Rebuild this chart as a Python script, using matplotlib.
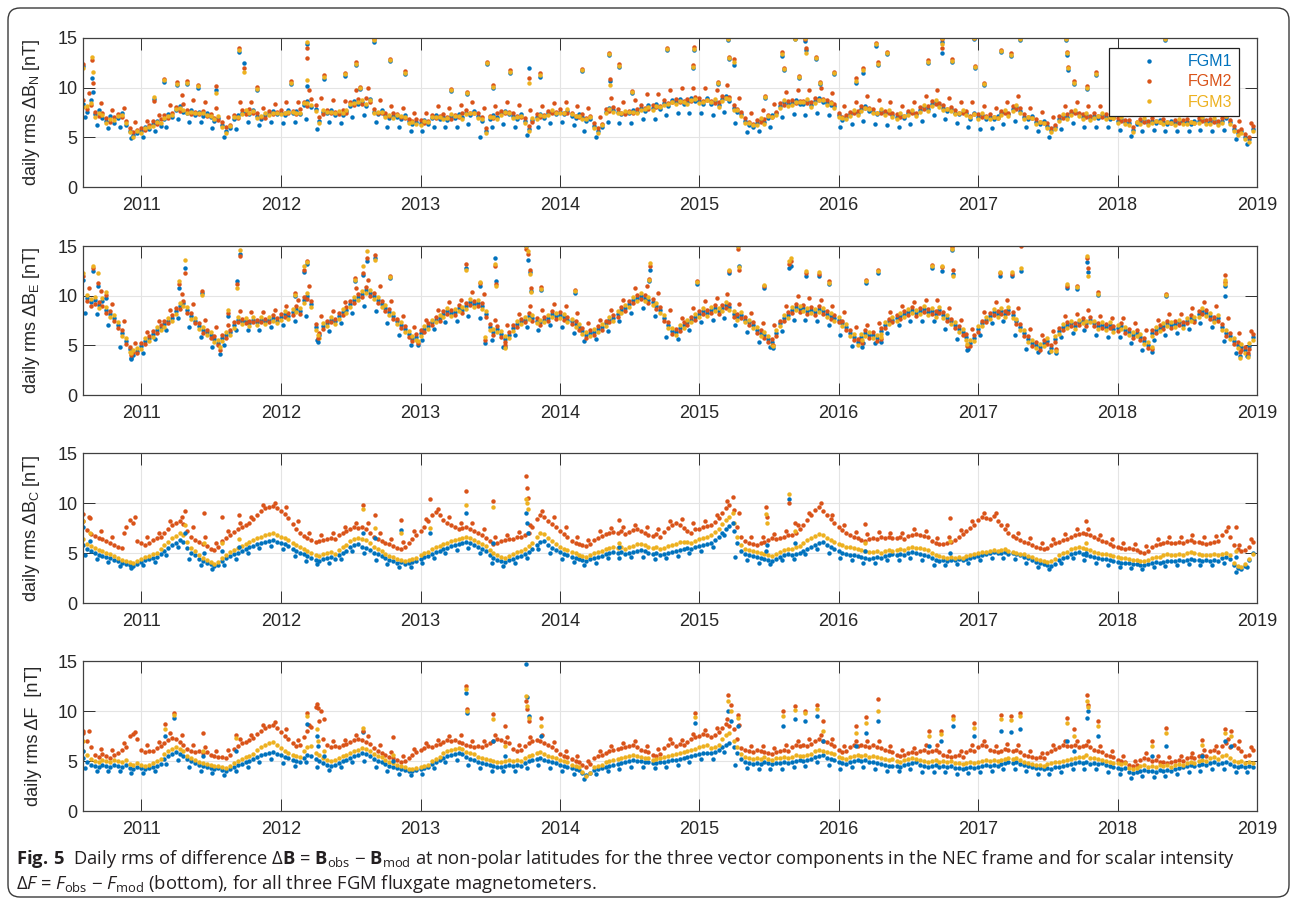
import numpy as np
import matplotlib
matplotlib.use("Agg")
import matplotlib.pyplot as plt
import matplotlib.dates as mdates
from matplotlib.patches import FancyBboxPatch
from matplotlib.transforms import IdentityTransform

plt.rcParams['font.family'] = ['Liberation Sans', 'DejaVu Sans']
plt.rcParams['mathtext.fontset'] = 'custom'
plt.rcParams['mathtext.rm'] = 'Liberation Sans'
plt.rcParams['mathtext.sf'] = 'Open Sans'
plt.rcParams['mathtext.bf'] = 'Open Sans:bold'
plt.rcParams['mathtext.it'] = 'Open Sans:italic'

# sampling: 1st, 11th, 21st of every month, Aug 2010 - Dec 2018
months = np.arange('2010-08', '2019-01', dtype='datetime64[M]')
dates = (months[:, None].astype('datetime64[D]') + np.array([0, 10, 20])).ravel()
# monthly band edges (lowest / highest daily values seen each month)
low_dates = months.astype('datetime64[D]') + 5
high_dates = months.astype('datetime64[D]') + 15

# ---------------- dB_N ----------------
n1 = [
 8.4,7.6,8.8, 7.3,7.8,6.9, 6.6,7.1,6.4, 6.9,7.5,6.2, 5.6,5.2,5.4,
 5.6,6.0,5.8, 6.3,6.6,6.1, 6.8,7.3,7.0, 7.8,8.2,7.6, 7.4,7.8,7.2, 7.6,7.1,7.4, 7.0,6.6,6.9, 6.2,5.6,5.9, 6.8,7.2,7.5, 7.6,7.3,7.8, 7.1,6.8,7.2, 7.4,7.7,7.3,
 7.5,7.2,7.8, 7.4,7.7,7.3, 8.3,8.7,8.1, 7.9,6.6,7.6, 7.4,7.8,7.2, 7.5,7.2,7.7, 8.2,8.7,8.4, 8.6,8.2,8.9, 7.6,7.3,7.8, 7.2,6.9,7.1, 7.0,6.8,7.2, 6.6,6.3,6.5,
 6.4,6.7,6.3, 6.9,7.2,6.8, 7.0,6.7,7.1, 6.9,7.3,7.0, 7.5,7.2,7.7, 7.1,6.6,5.6, 6.8,7.2,7.0, 7.4,7.7,7.3, 7.1,6.8,7.3, 6.6,5.8,6.7, 7.0,7.3,6.9, 7.4,7.6,7.3,
 7.6,7.3,7.7, 7.1,6.9,7.3, 7.0,6.6,6.8, 6.1,5.6,6.0, 7.6,8.0,7.8, 7.6,7.3,7.5, 7.4,7.8,7.6, 8.0,7.7,8.3, 8.0,8.4,7.9, 8.5,8.2,8.8, 8.6,8.9,8.4, 8.6,9.0,8.7,
 8.7,8.4,9.0, 8.4,8.7,8.3, 8.9,9.2,8.7, 8.0,7.6,7.3, 6.6,6.2,6.0, 6.4,6.7,6.5, 6.9,7.2,7.4, 8.2,8.6,8.4, 8.5,8.8,8.4, 8.4,8.7,8.3, 8.7,9.0,8.6, 8.5,8.3,8.2,
 7.2,6.7,7.0, 7.3,7.6,7.4, 7.9,8.2,7.7, 7.6,7.3,7.7, 7.4,7.6,7.2, 7.0,7.2,6.9, 7.4,7.6,7.3, 7.8,8.1,7.9, 8.4,8.6,8.3, 8.0,7.7,7.9, 7.5,7.3,7.6, 7.4,6.8,7.5,
 7.0,7.2,6.8, 7.0,6.8,7.1, 7.4,7.6,7.3, 7.9,8.1,7.7, 7.0,6.8,7.1, 6.5,6.3,6.6, 6.1,5.7,6.0, 6.8,7.1,7.0, 7.4,7.6,7.3, 7.0,7.2,6.9, 7.1,6.9,7.2, 7.0,6.8,7.1,
 6.6,6.8,6.5, 6.4,5.7,6.3, 6.5,6.7,6.4, 6.6,6.4,6.7, 6.5,6.3,6.6, 6.4,6.6,6.5, 6.5,6.3,6.6, 6.6,6.8,6.5, 6.5,6.7,6.4, 6.6,6.9,6.5, 5.8,5.4,5.6, 5.0,4.8,5.8,
]
n2 = [
 8.8,7.9,8.3, 7.6,7.1,7.4, 6.9,6.5,7.0, 7.3,7.0,6.6, 5.9,5.5,5.7,
 5.9,5.7,6.2, 6.6,6.3,6.8, 7.2,6.9,7.5, 8.1,7.7,8.4, 7.8,7.3,7.6, 7.3,7.7,7.1, 7.3,6.9,6.7, 6.5,6.0,6.2, 7.2,6.9,7.8, 7.3,7.9,7.5, 7.4,7.0,6.9, 7.7,7.3,7.6,
 7.8,7.4,7.5, 7.7,7.3,7.9, 8.6,8.2,8.9, 8.3,7.0,7.3, 7.8,7.4,7.6, 7.3,7.8,7.5, 8.6,8.3,8.9, 8.4,9.0,8.6, 7.9,7.5,7.4, 7.5,7.1,7.4, 7.3,7.0,6.9, 6.8,6.6,6.8,
 6.7,6.4,6.6, 7.2,6.9,7.1, 7.3,7.0,6.8, 7.2,7.0,7.4, 7.8,7.5,7.4, 7.4,7.0,5.9, 7.1,6.9,7.4, 7.7,7.4,7.6, 7.4,7.1,7.0, 6.9,6.1,6.5, 7.3,7.0,7.2, 7.7,7.4,7.6,
 7.9,7.5,7.4, 7.4,7.1,7.0, 7.3,6.9,7.1, 6.4,5.9,6.3, 7.9,7.7,8.1, 7.9,7.5,7.3, 7.7,7.5,7.9, 8.3,8.0,7.9, 8.3,8.1,8.2, 8.8,8.5,8.6, 8.9,8.6,8.7, 8.9,8.7,9.1,
 9.0,8.7,8.8, 8.7,8.5,8.6, 9.2,9.0,9.1, 8.3,7.9,7.6, 6.9,6.5,6.3, 6.7,6.5,6.8, 7.2,7.0,7.6, 8.5,8.3,8.7, 8.8,8.5,8.7, 8.7,8.5,8.6, 9.0,8.8,8.9, 8.8,8.6,8.4,
 7.5,7.0,7.2, 7.6,7.4,7.7, 8.2,8.0,8.0, 7.9,7.5,7.5, 7.7,7.4,7.4, 7.3,7.0,7.1, 7.7,7.4,7.5, 8.1,7.9,8.2, 8.7,8.4,8.5, 8.3,7.9,8.1, 7.8,7.5,7.4, 7.7,7.1,7.3,
 7.3,7.0,7.1, 7.3,7.0,6.9, 7.7,7.4,7.5, 8.2,7.9,8.0, 7.3,7.0,6.9, 6.8,6.5,6.4, 6.4,5.9,6.2, 7.1,6.9,7.3, 7.7,7.4,7.5, 7.3,7.0,7.1, 7.4,7.1,7.0, 7.3,7.0,6.9,
 6.9,6.6,6.7, 6.7,6.0,6.5, 6.8,6.5,6.6, 6.9,6.6,6.5, 6.8,6.5,6.4, 6.7,6.4,6.7, 6.8,6.5,6.4, 6.9,6.6,6.7, 6.8,6.5,6.6, 6.9,7.1,6.7, 6.1,5.6,5.8, 5.3,5.0,6.1,
]
n3 = [
 8.1,8.2,8.5, 7.0,7.5,7.2, 6.4,6.8,6.7, 7.1,7.2,6.4, 5.5,5.0,5.6,
 5.4,5.9,6.0, 6.1,6.5,6.4, 6.9,7.1,7.2, 7.9,8.0,7.8, 7.5,7.6,7.4, 7.5,7.4,7.2, 7.1,6.8,7.1, 6.0,5.4,6.1, 7.0,7.0,7.3, 7.8,7.5,7.7, 6.9,7.1,7.4, 7.2,7.5,7.5,
 7.3,7.5,7.6, 7.6,7.5,7.5, 8.5,8.5,8.3, 7.7,6.4,7.8, 7.6,7.6,7.4, 7.7,7.4,7.8, 8.4,8.5,8.6, 8.8,8.4,8.8, 7.4,7.6,7.6, 7.0,7.2,6.9, 7.2,7.1,7.0, 6.4,6.5,6.3,
 6.2,6.6,6.5, 7.0,7.0,7.0, 6.8,6.9,7.3, 7.1,7.1,6.8, 7.3,7.4,7.5, 6.9,6.8,5.4, 7.0,7.0,6.8, 7.2,7.6,7.5, 6.9,7.0,7.1, 6.4,5.6,6.9, 6.8,7.2,7.1, 7.2,7.8,7.5,
 7.4,7.5,7.9, 7.3,7.1,7.1, 6.8,6.8,7.0, 5.9,5.4,6.2, 7.4,7.9,7.6, 7.4,7.5,7.7, 7.6,7.6,7.4, 7.8,7.9,8.1, 7.8,8.2,8.1, 8.3,8.4,8.6, 8.4,8.7,8.6, 8.4,8.8,8.9,
 8.5,8.6,8.8, 8.6,8.9,8.1, 8.7,9.0,8.9, 7.8,7.8,7.1, 6.4,6.4,6.2, 6.2,6.9,6.3, 7.1,7.0,7.2, 8.0,8.8,8.2, 8.3,8.6,8.6, 8.6,8.9,8.1, 8.5,8.8,8.8, 8.3,8.5,8.0,
 7.0,6.9,6.8, 7.1,7.8,7.2, 7.7,8.0,7.9, 7.4,7.5,7.9, 7.2,7.8,7.0, 6.8,7.4,7.1, 7.2,7.8,7.1, 7.6,8.3,7.7, 8.2,8.8,8.1, 7.8,7.9,7.7, 7.3,7.5,7.8, 7.2,7.0,7.3,
 6.8,7.4,7.0, 6.8,7.0,6.9, 7.2,7.8,7.1, 7.7,8.3,7.5, 6.8,7.0,6.9, 6.3,6.5,6.4, 5.9,5.5,5.8, 6.6,7.3,6.8, 7.2,7.8,7.1, 6.8,7.4,6.7, 6.9,7.1,7.4, 6.8,7.0,6.9,
 6.4,7.0,6.3, 6.2,5.5,6.5, 6.3,6.9,6.2, 6.4,6.6,6.5, 6.3,6.5,6.4, 6.2,6.8,6.3, 6.3,6.5,6.4, 6.4,7.0,6.3, 6.3,6.9,6.2, 6.4,7.1,6.3, 5.6,5.2,5.4, 4.8,4.5,5.6,
]
n_low = [7.0,6.2,5.9,6.0,4.9,
 5.0,5.6,6.0,6.8,6.5,6.5,5.9,5.0,5.8,6.5,6.2,6.5,
 6.4,6.5,6.8,5.8,6.5,6.4,7.0,7.2,6.5,6.0,6.0,5.6,
 5.6,6.0,6.0,6.0,6.3,5.0,6.0,6.3,6.0,5.2,6.0,6.4,
 6.5,6.2,5.6,5.0,6.5,6.4,6.4,6.8,6.8,7.2,7.4,7.4,
 7.4,7.2,7.6,6.4,5.5,5.6,6.0,7.0,7.3,7.2,7.5,7.2,
 6.0,6.3,6.6,6.3,6.2,6.0,6.3,6.6,7.2,6.8,6.4,6.0,
 5.8,5.9,6.3,6.6,6.0,5.6,5.0,5.8,6.4,6.0,6.0,6.0,
 5.7,5.1,5.6,5.7,5.6,5.6,5.6,5.7,5.6,5.7,4.8,4.3]
n_high = [9.5,8.5,7.8,8.0,6.5,
 6.6,7.2,8.3,9.3,8.8,8.6,8.0,7.0,8.6,8.6,8.0,8.4,
 8.6,8.6,9.8,9.0,8.8,8.7,9.8,10.0,8.8,8.2,8.0,7.5,
 7.5,8.2,8.0,8.3,8.6,8.0,8.2,8.6,8.3,7.8,8.2,8.5,
 8.6,8.2,8.0,7.0,9.0,8.6,8.8,9.4,9.4,9.8,10.0,10.0,
 10.0,9.8,10.3,9.0,7.5,7.8,8.4,9.6,9.8,9.8,10.0,9.5,
 8.2,8.6,9.2,8.8,8.6,8.2,8.6,9.2,9.8,9.0,8.6,8.6,
 8.2,8.0,8.6,9.2,8.0,7.6,7.0,8.2,8.6,8.2,8.2,8.0,
 7.6,7.4,7.6,7.6,7.5,7.6,7.5,7.7,7.6,8.0,6.6,6.4]
storm_dates_n = [
 '2010-08-02','2010-08-25','2010-08-27',
 '2011-02-04','2011-03-02','2011-04-05','2011-05-01','2011-05-30','2011-07-16','2011-09-13','2011-09-28','2011-10-31',
 '2012-01-27','2012-03-09','2012-03-11','2012-04-22','2012-06-16','2012-07-16','2012-07-26','2012-09-01','2012-10-12','2012-11-22',
 '2013-03-21','2013-05-04','2013-06-25','2013-07-10','2013-08-23','2013-10-12','2013-11-10',
 '2014-02-28','2014-05-10','2014-05-12','2014-06-06','2014-07-10','2014-10-08','2014-12-15','2014-12-18',
 '2015-02-20','2015-03-17','2015-03-19','2015-04-01','2015-06-22','2015-08-07','2015-08-10','2015-09-09','2015-09-20',
 '2015-10-05','2015-10-08','2015-11-03','2015-11-13','2015-12-20',
 '2016-02-16','2016-03-06','2016-04-07','2016-04-12','2016-05-08','2016-08-23','2016-09-27','2016-09-29','2016-10-25',
 '2016-12-21','2016-12-24',
 '2017-01-15','2017-03-01','2017-03-27','2017-04-20','2017-08-18','2017-08-21','2017-08-24','2017-09-08','2017-10-14','2017-11-05',
 '2018-05-06','2018-10-10',
]
storm_n1 = [12.2,11.0,9.6, 8.9,10.6,10.3,10.4,10.0,9.8,13.6,12.5,9.8,
            10.4,14.4,10.2,10.9,11.2,12.3,9.9,14.6,12.7,11.4, 9.7,9.4,12.4,10.0,11.5,12.0,11.1,
            11.7,13.3,10.7,12.1,9.5,13.8,12.0,13.8,
            10.4,14.8,12.9,12.3,9.0,13.2,11.8,14.9,11.0,14.7,13.8,12.9,10.4,11.4,
            10.5,11.5,14.2,12.3,13.4,12.5,14.6,13.5,12.6,14.9,12.0,
            10.3,13.6,13.2,14.8,14.8,13.3,11.8,10.4,9.9,11.3, 14.8,8.6]
storm_n2 = [12.4,12.8,10.5, 8.7,10.9,10.6,10.7,10.3,10.2,14.0,12.0,10.1,
            10.7,14.0,13.0,11.3,11.5,12.6,10.1,14.9,12.9,11.7, 9.9,9.6,12.6,10.3,11.8,11.0,11.5,
            11.9,13.5,10.9,12.4,9.7,14.0,12.3,14.1,
            10.6,15.0,13.1,12.9,9.2,13.6,12.0,15.0,11.2,14.9,14.0,13.1,10.6,11.6,
            11.0,12.0,14.5,12.6,13.6,12.8,14.9,14.0,12.9,15.0,12.2,
            10.5,13.8,13.5,15.0,15.0,13.6,12.1,10.7,10.2,11.6, 15.0,8.9]
storm_n3 = [12.0,13.1,11.6, 9.1,10.8,10.4,10.5,10.2,9.5,13.8,11.6,9.9,
            10.5,14.6,10.8,11.1,11.4,12.4,10.0,14.8,12.8,11.5, 9.8,9.5,12.5,10.1,11.6,10.5,11.3,
            11.8,13.4,10.3,12.2,9.6,13.9,12.1,13.9,
            10.5,14.9,13.0,12.6,9.1,13.4,11.9,14.9,11.1,15.0,13.5,13.0,10.5,11.5,
            10.7,11.8,14.4,12.4,13.5,12.6,15.0,14.4,12.7,15.0,12.1,
            10.4,13.7,13.3,14.9,14.9,13.5,12.0,10.5,10.0,11.4, 14.9,8.7]

# ---------------- dB_E ----------------
e1 = [
 11.6,9.8,9.4, 9.6,9.1,9.5, 8.6,8.2,7.8, 7.0,6.2,5.4, 4.6,4.0,4.4,
 4.9,5.4,5.7, 6.1,6.5,6.8, 7.1,7.5,7.8, 8.5,9.0,9.3, 8.6,8.0,7.5, 6.9,6.5,6.3, 6.0,5.6,5.2, 5.7,6.0,6.3, 7.0,7.6,7.4, 7.5,7.2,7.6, 7.3,7.6,7.4, 7.6,7.8,7.5,
 7.9,8.2,8.0, 8.4,8.7,8.5, 9.6,10.0,9.2, 6.8,6.0,6.9, 7.2,7.6,7.4, 8.0,8.4,8.6, 9.2,9.6,9.9, 10.2,10.6,10.3, 10.0,9.6,9.2, 8.8,8.4,8.0, 7.4,7.0,6.6, 6.1,5.6,5.8,
 6.2,6.6,6.9, 7.3,7.6,7.8, 8.2,8.5,8.3, 8.4,8.8,8.6, 9.0,9.4,9.2, 9.3,9.0,8.2, 6.8,6.3,6.6, 6.1,5.6,6.0, 6.7,7.1,7.4, 7.6,8.0,7.8, 7.5,7.3,7.6, 7.8,8.2,8.0,
 8.1,7.9,7.6, 7.4,7.1,6.8, 6.4,6.0,6.2, 6.3,6.6,6.8, 7.2,7.6,7.8, 8.2,8.6,8.8, 9.2,9.6,9.8, 10.0,9.8,9.6, 9.4,9.0,8.6, 7.8,7.0,6.4, 6.3,6.7,7.0, 7.3,7.6,7.9,
 8.2,8.5,8.3, 8.6,8.8,8.5, 8.8,9.1,8.9, 8.2,7.9,8.1, 7.6,7.3,7.0, 6.5,6.2,6.0, 5.6,5.3,6.2, 7.2,7.8,8.1, 8.6,8.9,8.7, 8.8,8.5,8.6, 8.4,8.7,8.5, 8.2,8.0,7.8,
 7.6,7.2,6.8, 6.2,5.8,5.3, 5.8,6.2,6.0, 6.0,5.7,6.4, 7.0,7.4,7.6, 7.8,8.0,8.2, 8.4,8.6,8.3, 8.5,8.7,8.4, 8.5,8.2,8.6, 8.1,7.8,7.4, 7.0,6.6,6.3, 5.8,5.2,5.7,
 6.6,7.2,7.6, 8.0,8.4,8.2, 8.5,8.2,8.6, 8.1,7.4,6.8, 6.2,5.6,5.2, 5.0,4.8,5.2, 5.4,4.7,5.6, 6.4,6.8,7.0, 7.2,6.9,7.3, 7.5,7.2,7.6, 7.2,6.9,7.0, 6.8,7.0,6.6,
 6.7,6.9,6.5, 6.3,6.0,6.2, 5.8,5.4,5.0, 6.2,6.5,6.7, 6.9,7.2,7.0, 7.1,7.3,7.0, 7.5,7.8,7.6, 8.2,8.5,8.3, 8.0,7.6,7.8, 6.8,6.2,5.9, 5.4,5.0,4.8, 4.5,4.9,5.8,
]
e2 = [
 12.0,9.5,9.0, 9.2,9.4,9.0, 8.3,8.5,7.5, 6.7,6.5,5.1, 4.8,4.3,4.2,
 5.2,5.1,5.9, 6.4,6.2,7.0, 7.4,7.2,8.1, 8.8,8.7,9.5, 8.3,8.3,7.2, 7.2,6.2,6.5, 5.7,5.9,5.0, 6.0,5.7,6.5, 7.3,7.3,7.7, 7.2,7.5,7.3, 7.6,7.3,7.7, 7.3,8.1,7.8,
 8.2,7.9,8.3, 8.1,9.0,8.2, 9.9,9.7,9.5, 7.1,6.2,6.6, 7.5,7.3,7.7, 8.3,8.1,8.9, 9.5,9.3,10.2, 9.9,10.9,10.0, 10.3,9.3,9.5, 8.5,8.7,7.7, 7.7,6.7,6.9, 5.8,5.4,6.1,
 6.5,6.3,7.2, 7.0,7.9,7.5, 8.5,8.2,8.6, 8.1,9.1,8.3, 9.3,9.1,9.5, 9.0,9.3,7.9, 7.1,6.0,6.9, 5.8,5.3,6.3, 7.0,6.8,7.7, 7.3,8.3,7.5, 7.8,7.0,7.9, 7.5,8.5,7.7,
 8.4,7.6,7.9, 7.1,7.4,6.5, 6.7,5.7,6.5, 6.0,6.9,6.5, 7.5,7.3,8.1, 7.9,8.9,8.5, 9.5,9.3,10.1, 9.7,10.1,9.3, 9.7,8.7,8.9, 7.5,7.3,6.1, 6.6,6.4,7.3, 7.0,7.9,7.6,
 8.5,8.2,8.6, 8.3,9.1,8.2, 9.1,8.8,9.2, 7.9,8.2,7.8, 7.9,7.0,7.3, 6.2,6.5,5.7, 5.3,5.6,5.9, 7.5,7.5,8.4, 8.3,9.2,8.4, 9.1,8.2,8.9, 8.1,9.0,8.2, 8.5,7.7,8.1,
 7.3,7.5,6.5, 6.5,5.5,5.6, 5.5,6.5,5.7, 6.3,5.4,6.7, 6.7,7.7,7.3, 8.1,7.7,8.5, 8.1,8.9,8.0, 8.8,8.4,8.7, 8.2,8.5,8.3, 8.4,7.5,7.7, 6.7,6.9,6.0, 6.1,4.9,6.0,
 6.3,7.5,7.3, 8.3,8.1,8.5, 8.2,8.5,8.3, 8.4,7.1,7.1, 5.9,5.9,4.9, 5.3,4.5,5.5, 5.1,5.0,5.3, 6.7,6.5,7.3, 6.9,7.2,7.0, 7.8,6.9,7.9, 6.9,7.2,6.7, 7.1,6.7,6.9,
 6.4,7.2,6.2, 6.6,5.7,6.5, 5.5,5.7,4.7, 6.5,6.2,7.0, 6.6,7.5,6.7, 7.4,7.0,7.3, 7.2,8.1,7.3, 8.5,8.2,8.6, 7.7,7.9,7.5, 7.1,5.9,6.2, 5.1,5.3,4.5, 4.8,4.6,6.1,
]
e3 = [
 12.3,10.1,9.7, 9.9,8.8,9.8, 8.9,7.9,8.1, 7.3,5.9,5.7, 4.3,4.5,4.7,
 4.6,5.7,5.4, 5.8,6.8,6.5, 6.8,7.8,7.5, 8.2,9.3,9.0, 8.9,7.7,7.8, 6.6,6.8,6.0, 6.3,5.3,5.5, 5.4,6.3,6.0, 6.7,7.9,7.1, 7.8,6.9,7.9, 7.0,7.9,7.1, 7.9,7.5,7.2,
 7.6,8.5,7.7, 8.7,8.4,8.8, 9.3,10.3,8.9, 6.5,5.7,7.2, 6.9,7.9,7.1, 7.7,8.7,8.3, 8.9,9.9,9.6, 10.5,10.3,10.6, 9.7,9.9,8.9, 9.1,8.1,8.3, 7.1,7.3,6.3, 6.4,5.9,5.5,
 5.9,6.9,6.6, 7.6,7.3,8.1, 7.9,8.8,8.0, 8.7,8.5,8.9, 8.7,9.7,8.9, 9.6,8.7,8.5, 6.5,6.6,6.3, 6.4,5.9,5.7, 6.4,7.4,7.1, 7.9,7.7,8.1, 7.2,7.6,7.3, 8.1,7.9,8.3,
 7.8,8.2,7.3, 7.7,6.8,7.1, 6.1,6.3,5.9, 6.6,6.3,7.1, 6.9,7.9,7.5, 8.5,8.3,9.1, 8.9,9.9,9.5, 10.3,9.5,9.9, 9.1,9.3,8.3, 8.1,6.7,6.7, 6.0,7.0,6.7, 7.6,7.3,8.2,
 7.9,8.8,8.0, 8.9,8.5,8.8, 8.5,9.4,8.6, 8.5,7.6,8.4, 7.3,7.6,6.7, 6.8,5.9,6.3, 5.9,5.0,6.5, 6.9,8.1,7.8, 8.9,8.6,9.0, 8.5,8.8,8.3, 8.7,8.4,8.8, 7.9,8.3,7.5,
 7.9,6.9,7.1, 5.9,6.1,5.0, 6.1,5.9,6.3, 5.7,6.0,6.1, 7.3,7.1,7.9, 7.5,8.3,7.9, 8.7,8.3,8.6, 8.2,9.0,8.1, 8.8,7.9,8.9, 7.8,8.1,7.1, 7.3,6.3,6.6, 5.5,5.5,5.4,
 6.9,6.9,7.9, 7.7,8.7,7.9, 8.8,7.9,8.9, 7.8,7.7,6.5, 6.5,5.3,5.5, 4.7,5.1,4.9, 5.7,4.4,5.9, 6.1,7.1,6.7, 7.5,6.6,7.6, 7.2,7.5,7.3, 7.5,6.6,7.3, 6.5,7.3,6.3,
 7.0,6.6,6.8, 6.0,6.3,5.9, 6.1,5.1,5.3, 5.9,6.8,6.4, 7.2,6.9,7.3, 6.8,7.6,6.7, 7.8,7.5,7.9, 7.9,8.8,8.0, 8.3,7.3,8.1, 6.5,6.5,5.6, 5.7,4.7,5.1, 4.2,5.2,5.5,
]
e_low = [8.3,8.2,7.0,4.8,3.7,
 4.2,5.6,6.5,7.8,6.8,5.8,4.8,5.0,6.5,6.5,6.5,6.8,
 7.0,7.4,8.0,5.5,6.4,7.2,8.3,9.0,8.5,7.2,6.0,5.0,
 5.5,6.6,7.3,7.5,8.0,7.8,5.5,4.8,6.0,6.8,6.5,7.0,
 6.8,6.2,5.4,5.6,6.4,7.4,8.3,8.8,8.0,5.8,5.6,6.5,
 7.3,7.6,7.8,7.0,6.3,5.3,4.8,6.4,7.6,7.6,7.4,7.0,
 6.0,4.9,5.2,5.2,6.2,7.0,7.4,7.5,7.4,6.6,5.6,4.6,
 6.0,7.2,7.4,6.0,4.6,4.3,4.3,5.8,6.2,6.5,6.0,5.8,
 5.8,5.2,4.5,5.5,6.0,6.2,6.6,7.2,6.8,5.4,4.2,3.9]
e_high = [10.8,10.5,9.2,7.5,5.2,
 6.3,7.5,8.6,10.2,9.2,7.6,6.8,7.0,8.5,8.4,8.4,8.6,
 9.0,9.6,11.0,8.0,8.5,9.4,10.8,11.6,11.0,9.5,8.0,6.8,
 7.6,8.6,9.4,9.6,10.4,10.2,7.6,7.0,8.2,9.0,8.6,9.2,
 9.0,8.3,7.2,7.6,8.6,9.6,10.8,11.0,10.3,8.6,7.8,8.8,
 9.5,9.8,10.2,9.2,8.3,7.2,7.0,9.0,10.0,9.8,9.6,9.0,
 8.4,6.8,7.0,7.2,8.4,9.0,9.4,9.6,9.6,8.8,7.6,6.6,
 8.4,9.4,9.6,8.8,6.6,6.0,6.4,8.0,8.2,8.6,8.0,7.8,
 7.8,7.2,6.5,7.6,8.2,8.2,8.8,9.4,9.0,7.8,6.2,6.4]
storm_dates_e = [
 '2010-08-28','2010-09-08','2010-10-01','2010-12-05',
 '2011-04-09','2011-04-26','2011-06-10','2011-07-25','2011-08-15','2011-09-09','2011-09-15',
 '2012-02-07','2012-03-03','2012-03-09','2012-04-08','2012-07-13','2012-08-04','2012-08-14','2012-09-05','2012-10-12','2012-12-25',
 '2013-05-01','2013-06-06','2013-06-18','2013-07-16','2013-07-19','2013-08-11','2013-10-05','2013-10-09','2013-10-14','2013-10-18','2013-11-13',
 '2014-02-10','2014-08-22','2014-08-26','2014-12-27',
 '2015-03-21','2015-04-12','2015-04-14','2015-06-21','2015-07-12','2015-08-25','2015-08-29','2015-10-08','2015-11-11','2015-12-07',
 '2016-03-03','2016-03-14','2016-04-12','2016-04-21','2016-09-02','2016-09-28','2016-10-25','2016-10-27','2016-12-02',
 '2017-02-28','2017-03-29','2017-04-22','2017-07-24','2017-08-21','2017-09-17','2017-10-14','2017-10-16','2017-11-10',
 '2018-04-01','2018-05-07','2018-10-08','2018-10-10','2018-11-18','2018-12-08',
]
storm_e1 = [12.5,11.0,9.8,3.6, 10.8,12.8,10.3,4.1,8.0,11.5,14.2,
            10.0,12.4,13.2,5.3,11.5,12.1,13.5,13.8,11.8,5.0,
            12.8,11.0,5.2,13.8,11.5,4.8,15.0,13.6,12.4,10.5,10.6,
            10.3,11.5,12.6,11.2, 12.3,15.0,13.0,10.8,4.7,12.8,13.0,12.0,12.0,11.2,
            4.8,11.3,12.3,5.3,12.8,12.5,14.6,12.2,4.5,
            12.0,12.0,12.5,4.2,10.8,10.7,13.4,12.4,10.1, 4.3,10.0,10.0,11.0,3.9,4.0]
storm_e2 = [12.8,11.3,10.1,4.0, 11.2,12.3,10.5,4.5,8.3,11.2,14.0,
            10.3,12.6,13.5,5.7,11.8,12.3,13.8,14.1,12.0,5.2,
            13.2,11.3,5.5,13.0,11.2,5.0,14.7,14.2,12.6,10.8,10.9,
            10.6,11.7,13.0,11.5, 12.5,14.7,12.6,11.0,5.0,13.2,13.5,12.3,12.2,11.5,
            5.2,11.6,12.6,5.6,13.1,12.9,14.9,12.6,4.9,
            12.3,12.2,15.0,4.6,11.0,11.0,13.8,12.8,10.4, 4.6,10.2,12.1,11.4,4.3,4.2]
storm_e3 = [13.0,12.3,10.4,4.2, 11.5,13.6,10.1,4.8,8.6,10.8,14.6,
            10.1,13.0,13.4,6.0,11.6,13.0,14.5,13.6,11.9,5.4,
            12.6,11.4,5.8,13.2,11.0,4.7,15.0,14.5,12.2,10.4,10.7,
            10.5,11.6,13.3,11.4, 12.6,15.0,12.9,11.1,4.9,13.5,13.8,12.5,12.4,11.3,
            5.5,11.5,12.5,5.8,13.0,13.0,14.7,12.0,5.1,
            12.4,12.4,12.8,4.4,11.2,10.9,14.0,12.0,10.2, 4.8,10.1,11.2,11.6,3.7,3.8]

# ---------------- dB_C ----------------
c1 = [
 5.8,5.4,5.2, 5.0,4.8,4.7, 4.6,4.5,4.3, 4.2,4.0,3.9, 3.8,3.7,3.9,
 4.1,4.3,4.4, 4.5,4.6,4.9, 5.2,5.5,5.8, 6.0,6.3,6.1, 5.5,5.0,4.8, 4.4,4.2,4.0, 3.9,3.7,3.8, 4.2,4.5,4.7, 4.9,5.0,5.2, 5.4,5.6,5.7, 5.9,6.0,6.1, 6.2,6.3,6.1,
 6.0,5.9,5.7, 5.4,5.2,5.0, 4.9,4.7,4.5, 4.3,4.2,4.4, 4.5,4.6,4.4, 4.8,5.0,5.2, 5.6,5.8,5.9, 5.6,5.5,5.3, 5.0,4.9,4.7, 4.5,4.3,4.2, 4.0,4.1,3.9, 4.0,4.1,4.2,
 4.4,4.6,4.7, 4.9,5.1,5.2, 5.4,5.5,5.7, 5.8,5.9,6.0, 6.1,6.0,5.8, 5.6,5.4,5.2, 4.8,4.5,4.3, 4.2,4.1,4.3, 4.4,4.6,4.7, 4.9,5.1,5.4, 5.8,6.1,6.2, 5.8,5.5,5.3,
 5.1,4.9,4.8, 4.6,4.5,4.4, 4.3,4.2,4.4, 4.5,4.6,4.7, 4.9,5.0,5.1, 5.0,5.1,4.9, 5.0,5.1,5.2, 5.3,5.2,5.0, 4.9,5.0,4.8, 4.9,5.0,5.1, 5.2,5.3,5.4, 5.5,5.4,5.6,
 5.7,5.8,5.9, 6.0,6.3,6.6, 7.0,7.4,7.7, 7.2,6.0,5.2, 4.9,4.8,4.7, 4.6,4.5,4.4, 4.3,4.2,4.4, 4.6,4.8,4.9, 4.8,4.9,5.0, 5.2,5.4,5.6, 5.8,6.0,6.1, 5.8,5.6,5.4,
 5.2,5.0,4.9, 4.8,4.8,4.7, 4.6,4.5,4.4, 4.5,4.6,4.5, 4.7,4.8,4.9, 4.8,4.9,4.8, 5.0,5.1,5.0, 4.9,4.8,4.7, 4.5,4.3,4.2, 4.3,4.2,4.3, 4.3,4.4,4.3, 4.4,4.5,4.6,
 4.7,4.8,4.9, 5.0,5.1,5.0, 5.0,5.1,4.9, 5.0,4.9,4.8, 4.6,4.5,4.3, 4.1,4.0,3.9, 3.8,3.7,3.9, 4.3,4.5,4.6, 4.9,5.0,5.1, 4.9,4.8,4.7, 4.6,4.5,4.4, 4.4,4.3,4.2,
 4.1,4.0,4.0, 4.0,3.9,3.9, 3.8,3.8,3.9, 4.0,4.1,4.0, 4.1,4.2,4.2, 4.2,4.3,4.2, 4.3,4.4,4.3, 4.3,4.2,4.3, 4.2,4.3,4.2, 4.5,4.6,4.4, 3.8,3.5,3.4, 3.7,4.3,5.0,
]
c2 = [
 8.2,7.3,6.9, 6.7,6.5,6.4, 6.2,6.0,5.8, 5.6,5.5,7.6, 8.3,8.0,6.2,
 6.0,5.8,6.0, 6.3,6.5,6.6, 7.0,7.4,7.8, 8.0,8.2,7.9, 7.2,6.6,6.3, 6.1,5.9,5.7, 5.4,5.3,5.6, 6.2,6.5,6.8, 7.1,7.4,7.6, 7.8,8.0,8.4, 8.8,9.2,9.5, 9.6,9.7,9.5,
 9.2,8.9,8.5, 7.9,7.4,7.0, 6.7,6.5,6.3, 6.1,6.2,6.3, 6.4,6.5,6.4, 6.8,7.0,7.2, 7.4,7.6,7.5, 7.6,7.4,7.0, 6.6,6.4,6.2, 6.0,5.9,5.7, 5.5,5.4,5.6, 6.0,6.4,6.8,
 7.2,7.6,8.2, 8.8,9.1,8.8, 8.3,8.0,7.8, 7.6,7.4,7.5, 7.6,7.4,7.2, 7.0,6.8,6.5, 6.2,5.9,6.0, 6.2,6.3,6.4, 6.4,6.6,6.6, 6.8,7.0,7.6, 8.4,8.8,8.6, 8.2,7.9,7.6,
 7.2,6.9,6.6, 6.2,6.0,5.9, 5.8,5.7,5.9, 6.3,6.5,6.7, 6.9,7.0,7.1, 7.0,7.2,6.9, 7.1,7.3,7.4, 7.2,7.0,6.8, 6.7,6.9,6.6, 7.1,7.5,7.8, 8.0,7.8,7.5, 7.2,7.0,7.4,
 7.4,7.6,7.7, 7.8,8.1,8.5, 9.0,9.5,9.8, 9.3,7.6,6.6, 6.2,6.0,5.9, 5.8,6.0,6.1, 6.3,6.5,6.4, 6.5,6.6,6.8, 6.8,7.0,7.4, 7.8,8.3,8.8, 9.3,9.6,9.2, 8.8,8.4,8.0,
 7.6,7.3,7.0, 6.8,6.6,6.5, 6.3,6.2,6.4, 6.5,6.4,6.6, 6.5,6.6,6.5, 6.5,6.6,6.4, 6.7,6.8,6.9, 6.8,6.7,6.6, 6.2,6.0,5.9, 5.9,6.0,6.1, 6.3,6.6,6.9, 7.2,7.5,7.8,
 8.3,8.6,8.5, 8.4,8.7,8.2, 7.8,7.4,7.0, 6.7,6.5,6.3, 6.1,6.0,5.8, 5.6,5.5,5.4, 5.5,5.8,6.0, 6.1,6.3,6.4, 6.6,6.8,6.9, 7.0,6.9,6.8, 6.6,6.4,6.2, 6.1,5.9,5.7,
 5.6,5.5,5.4, 5.5,5.4,5.3, 5.1,5.0,5.2, 5.6,5.8,5.9, 6.0,6.1,6.0, 6.0,6.1,6.0, 6.2,6.3,6.1, 6.1,6.0,5.9, 6.0,6.1,6.2, 6.8,7.2,6.6, 5.8,5.4,5.2, 5.3,5.6,6.1,
]
c3 = [
 6.4,5.9,5.7, 5.5,5.3,5.2, 5.0,4.9,4.7, 4.5,4.3,4.2, 4.1,4.0,4.2,
 4.4,4.6,4.7, 4.9,5.0,5.4, 5.8,6.1,6.5, 6.7,7.0,6.8, 6.1,5.5,5.2, 4.8,4.5,4.3, 4.1,3.9,4.1, 4.5,4.8,5.1, 5.3,5.5,5.7, 5.9,6.1,6.3, 6.5,6.6,6.8, 6.9,7.0,6.8,
 6.6,6.5,6.3, 6.0,5.8,5.6, 5.4,5.2,5.0, 4.8,4.7,4.9, 5.0,5.1,4.9, 5.3,5.6,5.8, 6.2,6.4,6.5, 6.4,6.3,6.0, 5.6,5.4,5.2, 4.9,4.7,4.6, 4.4,4.3,4.2, 4.3,4.4,4.5,
 4.8,5.0,5.1, 5.4,5.6,5.7, 5.9,6.0,6.2, 6.3,6.4,6.5, 6.6,6.5,6.3, 6.1,5.9,5.7, 5.3,5.0,4.8, 4.6,4.5,4.7, 4.9,5.1,5.2, 5.4,5.7,6.0, 6.6,7.0,6.9, 6.5,6.2,5.9,
 5.6,5.4,5.3, 5.1,5.0,4.8, 4.7,4.6,4.8, 5.0,5.1,5.2, 5.4,5.5,5.6, 5.5,5.6,5.4, 5.6,5.7,5.9, 5.9,5.8,5.6, 5.5,5.6,5.4, 5.5,5.7,5.8, 5.9,6.1,6.1, 6.1,6.0,6.2,
 6.4,6.5,6.6, 6.8,7.1,7.4, 7.9,8.3,8.6, 8.0,6.6,5.8, 5.4,5.3,5.2, 5.1,5.0,4.9, 4.8,4.7,4.9, 5.1,5.3,5.4, 5.4,5.6,5.7, 6.0,6.3,6.5, 6.7,6.9,6.8, 6.5,6.3,6.1,
 5.9,5.8,5.6, 5.6,5.5,5.4, 5.3,5.2,5.1, 5.1,5.2,5.0, 5.2,5.3,5.2, 5.3,5.4,5.3, 5.5,5.6,5.5, 5.5,5.4,5.3, 5.0,4.8,4.7, 4.6,4.5,4.6, 4.5,4.6,4.5, 4.7,4.8,4.9,
 5.0,5.1,5.1, 5.2,5.3,5.2, 5.3,5.4,5.2, 5.1,5.0,4.9, 4.9,4.7,4.6, 4.4,4.3,4.2, 4.1,4.2,4.4, 4.8,5.0,5.1, 5.4,5.5,5.6, 5.5,5.4,5.3, 5.1,5.0,4.9, 4.9,4.8,4.7,
 4.6,4.5,4.5, 4.4,4.3,4.3, 4.2,4.2,4.3, 4.5,4.6,4.6, 4.8,4.9,4.8, 4.8,4.9,4.8, 5.0,5.1,5.0, 4.9,4.8,4.8, 4.8,4.9,4.8, 4.9,5.0,4.8, 4.0,3.7,3.6, 3.9,4.4,4.9,
]
c_low = [4.8,4.4,4.1,3.7,3.5,
 3.8,4.1,4.8,5.6,4.4,3.8,3.4,3.8,4.4,5.0,5.5,5.7,
 5.4,4.7,4.2,3.9,4.0,4.4,5.2,5.0,4.3,3.9,3.6,3.6,
 4.0,4.5,5.0,5.3,5.5,5.0,4.0,3.7,4.0,4.5,5.4,5.0,
 4.4,4.1,3.8,4.0,4.5,4.5,4.6,4.6,4.4,4.5,4.7,5.0,
 5.2,5.6,6.8,4.6,4.3,4.0,3.9,4.3,4.4,4.9,5.4,5.0,
 4.5,4.3,4.0,4.0,4.3,4.3,4.5,4.3,3.8,3.8,3.9,4.0,
 4.3,4.5,4.5,4.4,4.0,3.6,3.4,4.0,4.5,4.3,4.0,3.8,
 3.6,3.5,3.4,3.6,3.7,3.8,3.9,3.8,3.8,4.0,3.1,3.6]
c_high = [8.6,7.2,6.6,7.0,8.6,
 6.6,7.0,8.2,8.6,7.6,6.6,6.0,7.2,8.0,8.6,9.8,10.0,
 9.6,8.2,7.0,6.8,7.0,7.6,8.0,8.0,7.0,6.4,6.1,7.2,
 8.4,9.4,8.6,8.0,8.0,7.4,6.6,6.8,7.1,7.8,9.2,8.6,
 7.6,6.6,6.3,7.2,7.5,7.6,7.8,7.6,7.4,8.2,8.4,8.0,
 8.2,8.8,10.2,9.0,6.6,6.6,6.9,7.2,7.8,9.0,10.0,8.8,
 7.8,7.1,6.9,7.1,7.0,7.0,7.4,7.2,6.5,6.6,7.3,8.2,
 9.0,9.0,7.8,7.0,6.5,6.0,6.4,6.9,7.4,7.4,6.8,6.4,
 6.0,5.9,5.7,6.4,6.6,6.6,6.8,6.6,6.7,7.6,5.8,6.4]
storm_dates_c = [
 '2010-08-01','2010-08-20',
 '2011-04-25','2011-06-15','2011-08-01','2011-09-13',
 '2012-08-04','2012-09-05','2012-11-10',
 '2013-01-25','2013-05-01','2013-07-09','2013-10-05','2013-10-08','2013-10-10',
 '2014-06-06',
 '2015-03-30','2015-06-24','2015-06-27','2015-08-25','2015-09-10',
 '2016-03-10','2016-10-20', '2017-10-10', '2018-11-06',
]
storm_c1 = [7.6,6.2, 7.0,5.0,5.2,5.6, 7.0,6.5,7.3, 7.0,9.0,6.0,9.0,8.0,7.0, 5.6,
            8.0,5.2,5.8,10.4,6.0, 5.2,5.0, 5.0, 4.6]
storm_c2 = [8.9,8.5, 9.2,9.0,8.6,8.8, 9.8,8.8,8.3, 10.4,11.2,10.2,12.7,11.5,10.5, 8.3,
            10.6,9.6,8.6,10.0,8.0, 7.9,8.5, 8.2, 7.6]
storm_c3 = [8.2,7.0, 7.8,6.0,6.0,6.4, 9.4,7.5,7.0, 7.5,9.8,9.6,10.4,10.0,9.4, 6.0,
            9.0,8.9,8.0,10.9,7.2, 6.0,6.2, 6.0, 5.2]

# ---------------- dF ----------------
f1 = [
 5.3,4.9,4.6, 4.5,4.4,4.6, 4.5,4.4,4.6, 4.5,4.4,4.6, 4.3,4.2,4.4,
 4.3,4.2,4.3, 4.4,4.5,4.7, 5.2,5.5,5.7, 5.9,5.7,5.5, 5.2,5.0,4.8, 4.6,4.5,4.4, 4.3,4.2,4.3, 4.1,4.0,4.2, 4.4,4.6,4.7, 4.9,5.0,5.2, 5.4,5.6,5.7, 5.8,5.9,5.7,
 5.6,5.4,5.3, 5.1,5.0,4.9, 5.3,5.6,5.5, 5.2,5.0,4.8, 4.6,4.5,4.6, 4.8,5.0,5.1, 5.3,5.5,5.6, 5.8,5.7,5.5, 5.2,5.0,4.9, 4.7,4.5,4.4, 4.3,4.2,4.1, 4.0,4.0,4.1,
 4.2,4.3,4.4, 4.7,4.9,5.1, 5.3,5.5,5.6, 5.7,5.8,5.7, 5.4,5.2,5.1, 4.9,4.8,4.7, 4.6,4.5,4.4, 4.4,4.5,4.6, 4.5,4.6,4.5, 4.8,5.0,5.1, 5.2,5.3,5.1, 5.0,4.9,4.8,
 4.6,4.5,4.4, 4.3,4.2,4.1, 3.8,3.6,3.8, 4.1,4.2,4.3, 4.4,4.5,4.6, 4.7,4.8,4.9, 5.0,5.1,5.0, 5.0,4.9,4.9, 4.8,4.8,4.9, 4.9,5.0,5.1, 5.1,5.2,5.3, 5.4,5.5,5.6,
 5.7,5.8,5.8, 5.8,5.9,6.1, 6.4,6.6,6.8, 6.4,5.8,5.2, 4.9,4.8,4.7, 4.8,4.7,4.9, 4.8,4.7,4.8, 4.8,4.9,4.8, 4.9,5.0,5.1, 5.0,5.1,5.2, 5.4,5.5,5.6, 5.3,5.2,5.1,
 4.9,4.8,4.7, 4.9,5.0,5.1, 5.0,5.1,4.9, 4.9,4.8,4.7, 4.6,4.5,4.5, 4.5,4.4,4.6, 4.7,4.8,4.9, 4.6,4.5,4.4, 4.5,4.6,4.4, 4.5,4.4,4.5, 4.3,4.3,4.2, 4.3,4.4,4.3,
 4.4,4.5,4.6, 4.5,4.6,4.5, 4.7,4.8,4.9, 4.8,4.9,4.7, 4.6,4.5,4.4, 4.3,4.3,4.2, 4.3,4.2,4.4, 4.4,4.5,4.6, 4.7,4.8,4.9, 4.8,4.9,4.7, 4.8,4.7,4.8, 4.6,4.5,4.4,
 4.3,4.2,4.3, 3.9,3.8,3.9, 4.0,4.1,4.0, 4.0,3.9,4.1, 4.0,4.1,4.0, 4.2,4.3,4.4, 4.5,4.6,4.5, 4.6,4.7,4.6, 4.8,4.9,4.7, 4.8,4.9,4.7, 4.5,4.4,4.5, 4.4,4.5,4.4,
]
f2 = [
 7.8,7.0,6.4, 5.6,5.4,5.7, 5.5,5.3,5.6, 5.8,6.1,6.4, 7.5,7.7,7.2,
 6.1,5.9,6.0, 6.0,6.3,6.5, 6.8,7.1,7.3, 7.2,6.9,6.6, 6.2,6.0,5.9, 6.0,5.8,5.9, 5.6,5.5,5.4, 5.4,5.3,5.6, 6.2,6.5,6.8, 6.9,7.1,7.3, 7.7,8.0,8.3, 8.5,8.6,8.3,
 7.9,7.5,7.2, 6.8,6.5,6.6, 7.4,8.0,8.4, 10.4,9.0,7.2, 6.6,6.4,6.5, 6.4,6.6,6.7, 6.9,7.1,7.2, 7.1,6.9,6.7, 6.3,6.0,5.8, 5.6,5.4,5.3, 5.1,4.9,5.0, 5.3,5.6,5.9,
 6.1,6.3,6.5, 6.4,6.6,6.7, 6.9,7.1,7.0, 7.1,6.9,6.8, 6.6,6.5,6.4, 6.5,6.4,6.6, 6.8,7.0,7.2, 7.1,6.9,6.8, 6.2,6.0,6.1, 6.5,6.8,7.0, 7.1,7.0,6.8, 6.6,6.4,6.1,
 5.7,5.5,5.4, 5.2,5.0,4.9, 4.6,4.4,4.7, 5.3,5.5,5.6, 5.8,6.0,6.1, 6.2,6.3,6.4, 6.5,6.6,6.4, 6.1,6.0,5.9, 5.6,5.5,5.7, 6.3,6.6,6.8, 6.5,6.7,6.6, 6.9,7.2,7.4,
 7.5,7.7,7.6, 7.4,7.6,7.9, 8.3,8.7,8.5, 8.2,7.2,6.3, 6.1,6.0,5.9, 6.1,6.0,5.9, 5.8,5.7,5.9, 6.0,6.1,6.0, 6.4,6.6,6.5, 6.6,6.5,6.7, 7.0,7.2,7.0, 6.9,6.7,6.5,
 6.1,5.9,6.0, 6.4,6.6,6.5, 6.6,6.5,6.4, 6.6,6.4,6.3, 6.1,6.0,5.9, 5.6,5.5,5.6, 5.8,5.9,5.8, 6.0,6.1,5.9, 6.0,6.1,5.9, 5.6,5.5,5.4, 5.5,5.6,5.4, 5.9,6.1,6.0,
 6.4,6.6,6.5, 6.1,6.0,5.9, 6.0,6.2,6.1, 6.0,6.1,5.9, 5.6,5.5,5.4, 5.3,5.4,5.3, 5.8,6.0,6.2, 6.4,6.6,6.5, 6.5,6.6,6.4, 6.5,6.6,6.4, 6.1,6.0,5.9, 5.6,5.5,5.4,
 5.1,5.0,4.9, 4.6,4.5,4.6, 5.1,5.3,5.2, 5.0,5.1,4.9, 4.9,4.8,4.9, 5.0,5.1,5.0, 5.3,5.4,5.3, 5.5,5.6,5.5, 6.0,6.1,5.9, 6.5,6.8,6.4, 6.6,6.3,6.0, 5.5,5.6,6.1,
]
f3 = [
 6.0,5.6,5.2, 5.0,4.9,5.1, 5.0,4.9,5.1, 5.0,4.9,5.1, 4.7,4.6,4.8,
 4.6,4.5,4.6, 4.8,5.0,5.2, 5.7,6.0,6.2, 6.4,6.2,6.0, 5.5,5.3,5.1, 4.9,4.8,4.7, 4.6,4.5,4.5, 4.4,4.3,4.5, 4.8,5.0,5.2, 5.4,5.5,5.7, 6.1,6.4,6.6, 6.8,6.9,6.6,
 6.3,6.0,5.8, 5.6,5.5,5.4, 6.0,6.4,6.5, 5.8,5.6,5.3, 5.1,5.0,5.1, 5.3,5.5,5.6, 5.8,6.0,6.1, 6.3,6.2,6.0, 5.7,5.5,5.4, 5.1,4.9,4.8, 4.6,4.5,4.4, 4.2,4.2,4.3,
 4.4,4.5,4.6, 5.0,5.2,5.4, 5.8,6.0,6.1, 6.2,6.3,6.2, 5.9,5.8,5.7, 5.4,5.3,5.2, 5.1,5.0,4.9, 4.9,5.0,5.1, 5.0,5.1,5.0, 5.3,5.5,5.6, 5.8,5.9,5.7, 5.5,5.4,5.3,
 5.1,5.0,4.9, 4.6,4.5,4.4, 3.9,3.5,3.8, 4.4,4.5,4.6, 4.9,5.0,5.1, 5.2,5.3,5.4, 5.5,5.6,5.5, 5.4,5.3,5.3, 5.1,5.2,5.3, 5.4,5.5,5.6, 5.7,5.8,5.9, 6.0,6.1,6.2,
 6.4,6.5,6.6, 6.3,6.4,6.6, 7.2,7.6,7.8, 7.0,6.4,5.7, 5.4,5.3,5.2, 5.3,5.2,5.4, 5.2,5.1,5.3, 5.3,5.4,5.3, 5.4,5.6,5.5, 5.5,5.6,5.7, 6.0,6.1,6.0, 5.9,5.8,5.7,
 5.4,5.3,5.2, 5.4,5.5,5.6, 5.5,5.6,5.4, 5.5,5.4,5.3, 5.2,5.1,5.2, 5.0,4.9,5.1, 5.2,5.3,5.2, 5.1,5.0,4.9, 5.0,5.1,4.9, 5.0,4.9,5.0, 4.8,4.8,4.7, 4.8,4.9,4.8,
 4.9,5.0,5.1, 5.0,5.1,5.0, 5.1,5.2,5.3, 5.2,5.3,5.1, 4.9,4.8,4.7, 4.6,4.6,4.5, 4.7,4.8,4.9, 4.9,5.0,5.1, 5.2,5.3,5.4, 5.4,5.6,5.3, 5.3,5.2,5.1, 5.0,4.9,4.8,
 4.8,4.7,4.8, 4.3,4.2,4.3, 4.5,4.6,4.4, 4.5,4.4,4.6, 4.5,4.6,4.4, 4.6,4.7,4.6, 4.8,4.9,4.8, 5.0,5.1,5.0, 5.3,5.4,5.2, 5.5,5.6,5.3, 5.0,4.9,5.0, 4.8,4.9,4.8,
]
f_low = [4.3,4.0,4.0,4.0,3.8,
 3.8,4.0,4.7,5.1,4.4,4.0,3.8,3.6,4.0,4.4,4.9,5.2,
 4.8,4.5,4.9,4.4,4.1,4.4,4.9,5.0,4.4,4.0,3.7,3.6,
 3.7,4.3,4.9,5.1,4.6,4.3,4.0,4.0,4.0,4.3,4.6,4.3,
 4.0,3.7,3.2,3.7,4.0,4.2,4.4,4.4,4.3,4.4,4.6,4.9,
 5.2,5.2,5.9,4.6,4.3,4.2,4.2,4.2,4.4,4.5,4.9,4.6,
 4.2,4.4,4.4,4.2,4.0,4.0,4.2,3.9,3.9,3.9,3.7,3.8,
 3.9,4.0,4.2,4.2,4.0,3.7,3.7,3.9,4.2,4.2,4.2,3.9,
 3.7,3.3,3.5,3.4,3.5,3.7,3.9,4.0,4.2,4.2,3.9,3.9]
f_high = [8.0,6.2,6.1,6.8,7.9,
 6.6,6.9,7.8,7.6,6.6,6.4,6.0,6.1,7.2,7.6,8.6,8.9,
 8.2,7.1,8.6,10.0,7.0,7.1,7.6,7.5,6.6,5.9,5.5,6.2,
 6.8,7.1,7.5,7.6,7.0,7.0,7.6,7.4,6.6,7.4,7.6,6.9,
 6.0,5.5,5.0,6.0,6.5,6.8,7.0,6.5,6.2,7.2,7.1,7.7,
 8.1,8.3,9.2,8.6,6.5,6.5,6.3,6.6,7.0,7.2,7.6,7.2,
 6.5,7.0,7.0,7.0,6.5,6.1,6.3,6.6,6.6,6.0,6.0,6.6,
 7.0,6.5,6.7,6.6,6.0,5.8,6.6,7.0,7.0,7.0,6.5,6.0,
 5.5,5.0,5.8,5.5,5.4,5.5,5.8,6.1,6.5,7.2,7.0,6.4]
storm_dates_f = [
 '2010-08-01',
 '2011-03-05','2011-03-28','2011-06-12','2011-09-05',
 '2012-03-10','2012-04-05','2012-04-08','2012-04-22','2012-08-04','2012-10-20',
 '2013-05-01','2013-05-03','2013-07-10','2013-08-10','2013-10-05','2013-10-08','2013-10-12','2013-11-12',
 '2014-12-20',
 '2015-03-18','2015-03-25','2015-04-12','2015-08-08','2015-09-09','2015-10-06','2015-11-05','2015-11-20',
 '2016-02-15','2016-03-12','2016-04-12','2016-08-25','2016-09-25','2016-10-27','2016-12-21',
 '2017-03-01','2017-03-27','2017-04-20','2017-08-21','2017-09-08','2017-10-14','2017-10-16','2017-11-10',
 '2018-04-01','2018-05-07','2018-08-10','2018-10-08','2018-10-25',
]
storm_f1 = [6.0, 7.5,9.3,5.5,6.0, 8.7,7.5,6.5,5.5,7.9,5.0, 11.8,9.8,7.0,5.5,14.7,11.4,9.5,7.5, 8.8,
            10.0,9.0,8.5,8.5,9.2,9.0,9.5,7.0, 6.5,7.8,9.0,6.5,7.0,8.5,7.5,
            8.0,7.9,8.2,7.0,6.0,9.3,10.0,7.5, 5.5,6.5,5.5,7.0,6.5]
storm_f2 = [8.0, 8.7,9.8,7.8,7.6, 9.8,10.7,10.3,9.2,8.0,7.4, 12.5,10.2,9.7,8.5,11.0,10.2,9.0,9.3, 9.8,
            11.6,10.6,9.6,10.0,10.5,10.0,10.6,9.0, 8.5,9.4,11.2,8.0,8.0,9.5,8.8,
            9.6,9.5,9.8,9.3,8.2,11.6,10.6,9.0, 7.0,8.3,7.1,8.2,8.0]
storm_f3 = [7.0, 8.2,9.6,6.0,7.3, 9.5,8.2,7.0,6.0,8.3,5.6, 12.2,10.0,9.2,6.5,11.5,10.5,9.3,8.5, 9.4,
            11.0,10.0,9.3,9.5,10.1,9.8,10.2,8.0, 7.8,8.8,10.0,7.5,7.7,9.2,8.3,
            9.2,9.1,9.5,8.8,7.5,11.0,10.4,8.5, 6.5,7.8,6.6,7.8,7.5]

ylabels = ['daily rms \u0394B$_\\mathrm{N}$ [nT]', 'daily rms \u0394B$_\\mathrm{E}$ [nT]',
           'daily rms \u0394B$_\\mathrm{C}$ [nT]', 'daily rms \u0394F  [nT]']
labels = ['FGM1', 'FGM2', 'FGM3']
colors = ['#0072BD', '#D95319', '#EDB120']

panels = [
    ([n1, n2, n3], n_low, n_high, storm_dates_n, [storm_n1, storm_n2, storm_n3]),
    ([e1, e2, e3], e_low, e_high, storm_dates_e, [storm_e1, storm_e2, storm_e3]),
    ([c1, c2, c3], c_low, c_high, storm_dates_c, [storm_c1, storm_c2, storm_c3]),
    ([f1, f2, f3], f_low, f_high, storm_dates_f, [storm_f1, storm_f2, storm_f3]),
]

for k, (series, lo, hi, sd, sv) in enumerate(panels):
    for s in series:
        assert len(s) == len(dates), (k, len(s), len(dates))
    assert len(lo) == len(months) and len(hi) == len(months), (k, len(lo), len(hi))
    for s in sv:
        assert len(s) == len(sd), (k, len(s), len(sd))

W, H = 1293, 902
fig = plt.figure(figsize=(W / 100, H / 100), dpi=100)

top_px = [38, 246, 453, 661]
bot_px = [187, 395, 603, 811]
x0, x1 = 83, 1257
ms = 3.2

for k, (series, lo, hi, sd, sv) in enumerate(panels):
    ax = fig.add_axes([x0 / W, 1 - bot_px[k] / H, (x1 - x0) / W, (bot_px[k] - top_px[k]) / H])
    sdates = np.array(sd, dtype='datetime64[D]')
    extra = {0: (low_dates, lo), 1: (high_dates, hi)}
    for i in range(3):
        ax.plot(dates, series[i], linestyle='none', marker='o', ms=ms, mew=0,
                color=colors[i], label=labels[i])
        if i in extra:
            ax.plot(extra[i][0], extra[i][1], linestyle='none', marker='o', ms=ms, mew=0, color=colors[i])
    for i in range(3):
        ax.plot(sdates, sv[i], linestyle='none', marker='o', ms=ms, mew=0, color=colors[i])
    ax.set_xlim(np.datetime64('2010-08-01'), np.datetime64('2019-01-01'))
    ax.set_ylim(0, 15)
    ax.set_yticks([0, 5, 10, 15])
    ax.xaxis.set_major_locator(mdates.YearLocator())
    ax.xaxis.set_major_formatter(mdates.DateFormatter('%Y'))
    ax.grid(True, color='#e4e4e4', linewidth=0.8)
    ax.set_axisbelow(True)
    ax.tick_params(direction='in', length=8.5, width=0.7, top=True, right=True,
                   color='#303030', labelcolor='#262626', labelsize=13)
    ax.tick_params(axis='x', pad=7)
    ax.tick_params(axis='y', pad=4)
    for sp in ax.spines.values():
        sp.set_color('#404040')
        sp.set_linewidth(0.9)
    ax.set_ylabel(ylabels[k], fontsize=13, color='#262626')
    ax.yaxis.set_label_coords(-0.035, 0.5)
    if k == 0:
        leg = ax.legend(loc='upper right', bbox_to_anchor=(0.9847, 0.933), fontsize=11.5,
                        labelcolor=colors, frameon=True, fancybox=False, borderpad=0.4,
                        handlelength=4.2, handletextpad=0.35, labelspacing=0.32,
                        borderaxespad=0, markerscale=1.0)
        leg.get_frame().set_edgecolor('#202020')
        leg.get_frame().set_linewidth(0.9)
        leg.get_frame().set_alpha(1)

cap1 = (r'$\mathbf{Fig.\,5}$  Daily rms of difference ' + '\u0394' +
        r'$\mathbf{B}$ = $\mathbf{B}_{\mathsf{obs}}$ $-$ $\mathbf{B}_{\mathsf{mod}}$'
        ' at non-polar latitudes for the three vector components in the NEC frame and for scalar intensity')
cap2 = ('\u0394' + r'$\mathit{F}$ = $\mathit{F}_{\mathsf{obs}}$ $-$ $\mathit{F}_{\mathsf{mod}}$'
        ' (bottom), for all three FGM fluxgate magnetometers.')
fig.text(16 / W, 1 - 864 / H, cap1, fontsize=13.2, family='Open Sans', color='#231f20', va='baseline')
fig.text(16 / W, 1 - 889 / H, cap2, fontsize=13.2, family='Open Sans', color='#231f20', va='baseline')

border = FancyBboxPatch((8, H - 897), 1281, 889, boxstyle='round,pad=0,rounding_size=12',
                        transform=IdentityTransform(), facecolor='none', edgecolor='#3a3a3a', linewidth=1.0)
fig.add_artist(border)

fig.savefig('out.png', dpi=100)
